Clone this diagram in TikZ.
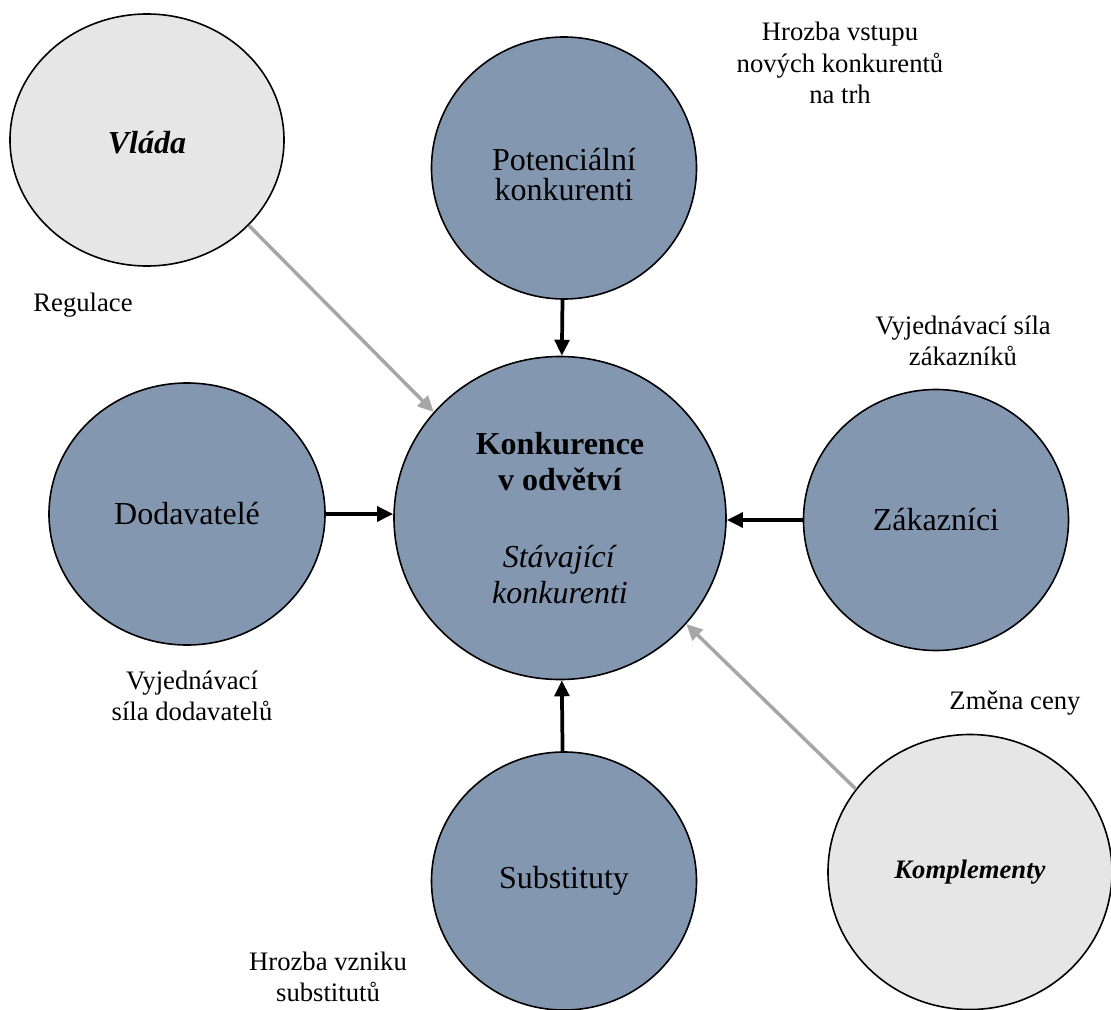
\documentclass[tikz,border=0pt]{standalone}
\usepackage{fontspec}
\setmainfont{Liberation Serif}
\usetikzlibrary{arrows.meta,shapes.geometric}
\definecolor{forceblue}{HTML}{8497B0}
\definecolor{forcegrey}{HTML}{E6E6E6}
\definecolor{arrowgrey}{HTML}{A6A6A6}
\tikzset{
% Two node styles for the forces: blue and grey
blue node/.style={ellipse,draw,line width=1.2pt,fill=forceblue,inner sep=0,align=center,font=\fontsize{24}{26}\selectfont},
grey node/.style={ellipse,draw,line width=1.2pt,fill=forcegrey,inner sep=0,align=center,font=\fontsize{24}{26}\selectfont},
note/.style={align=center,font=\fontsize{20}{23.5}\selectfont},
% Arrows: black for the five forces, grey for the others
force/.style={line width=2.8pt,-{Triangle[length=12pt,width=11pt]}},
weak force/.style={line width=2.6pt,draw=arrowgrey,-{Triangle[length=12pt,width=11pt]}}
}
\begin{document}
\begin{tikzpicture}[x=0.75pt,y=-0.75pt]
\useasboundingbox (0,0) rectangle (1111,1010);
% The circles
\node(vlada)[grey node,minimum width=0.75*274pt,minimum height=0.75*252pt] at (147,140) {\raisebox{-10pt}[0pt][0pt]{\textbf{\textit{Vláda}}}};
\node(potencial)[blue node,minimum width=0.75*265pt,minimum height=0.75*262pt] at (564,168) {\raisebox{-14pt}[0pt][0pt]{\begin{tabular}{@{}c@{}}Potenciální\\[-3.5pt]konkurenti\end{tabular}}};
\node(konk)[blue node,minimum width=0.75*332pt,minimum height=0.75*323pt,font=\fontsize{24}{27}\selectfont] at (560,518) {\textbf{Konkurence}\\\textbf{v odvětví}\\[31pt]\textit{Stávající}\\\textit{konkurenti}};
\node(dodav)[blue node,minimum width=0.75*276pt,minimum height=0.75*262pt] at (187,514) {Dodavatelé};
\node(zakaz)[blue node,minimum width=0.75*265pt,minimum height=0.75*261pt] at (936,520) {Zákazníci};
\node(subst)[blue node,minimum width=0.75*265pt,minimum height=0.75*258pt] at (564,881) {Substituty};
\node(kompl)[grey node,minimum width=0.75*284pt,minimum height=0.75*275pt,font=\fontsize{20}{24}\selectfont] at (970,872) {\textbf{\textit{Komplementy}}};
% The labels
\node(regul)[note] at (83,305) {Regulace};
\node(vstup)[note] at (840,63) {Hrozba vstupu\\nových konkurentů\\na trh};
\node(silazak)[note] at (963,341) {Vyjednávací síla\\zákazníků};
\node(siladod)[note] at (192,696) {Vyjednávací\\síla dodavatelů};
\node(cena)[note] at (1015,703) {Změna ceny};
\node(vznik)[note] at (328,977) {Hrozba vzniku\\substitutů};
% The arrows
\draw[force] (potencial) -- (konk);
\draw[force] (dodav.east) -- (dodav.east -| konk.west);
\draw[force] (zakaz.west) -- (zakaz.west -| konk.east);
\draw[force] (subst) -- (konk);
\draw[weak force] (vlada.-40) -- (konk.140);
\draw[weak force] (kompl.144) -- (konk.-40);
\end{tikzpicture}
\end{document}
